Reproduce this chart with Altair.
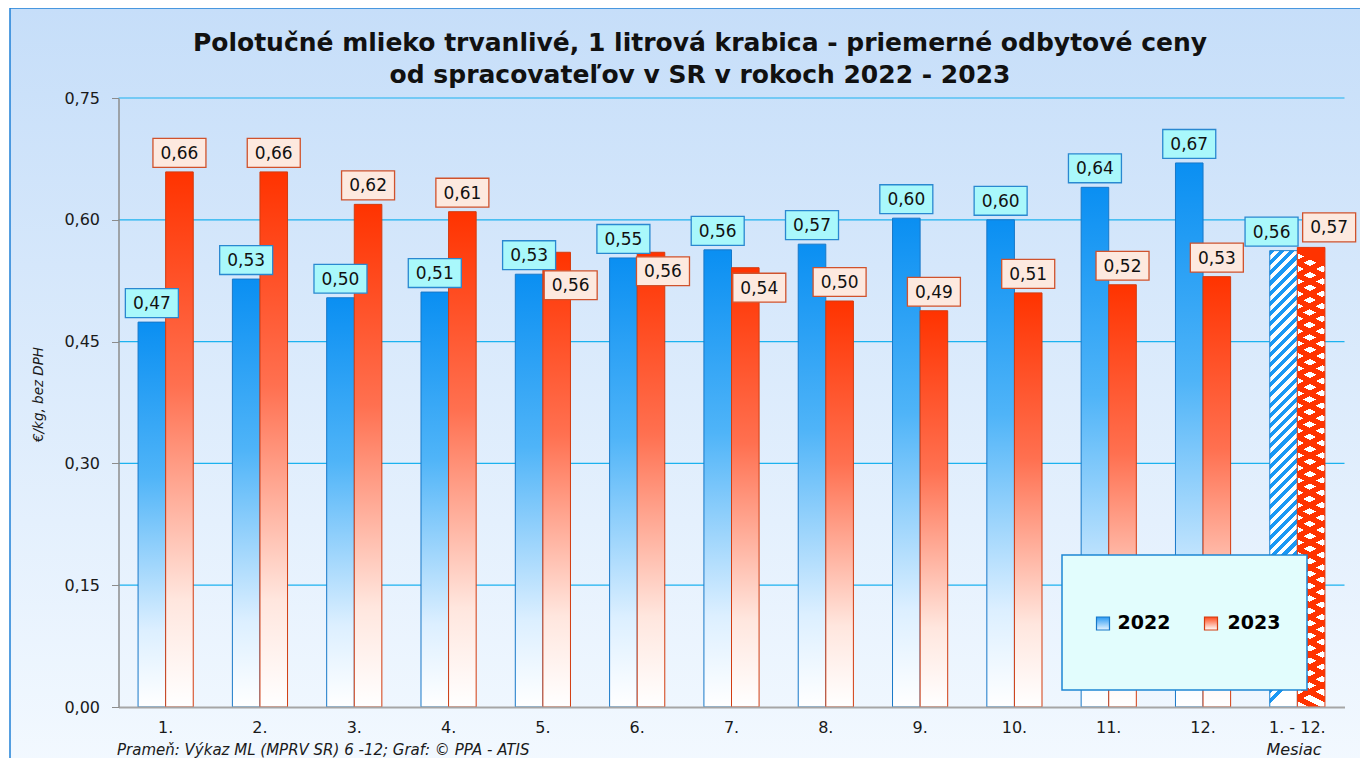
import altair as alt
import pandas as pd

# ---------------- data ----------------
months = ["1.", "2.", "3.", "4.", "5.", "6.", "7.", "8.", "9.", "10.", "11.", "12.", "1. - 12."]
years = ["2022", "2023"]
price_2022 = [0.474, 0.527, 0.504, 0.511, 0.533, 0.553, 0.563, 0.570, 0.602, 0.600, 0.640, 0.670, 0.562]
price_2023 = [0.659, 0.659, 0.619, 0.610, 0.560, 0.560, 0.541, 0.500, 0.488, 0.510, 0.520, 0.530, 0.566]
y_ticks = [0.0, 0.15, 0.30, 0.45, 0.60, 0.75]
title_lines = ["Polotučné mlieko trvanlivé, 1 litrová krabica - priemerné odbytové ceny",
               "od spracovateľov v SR v rokoch 2022 - 2023"]
y_title = "€/kg, bez DPH"
x_title = "Mesiac"
source_note = "Prameň: Výkaz ML (MPRV SR) 6 -12; Graf: © PPA - ATIS"
legend_labels = ["2022", "2023"]

# ---------------- style ----------------
# pixel offsets of the (manually moved) value labels relative to the bar top
lab_dx_2022 = [0, 0, 0, 0, 0, 0, 0, 0, 0, 0, 0, 0, -12]
lab_dy_2022 = [-19] * 13
lab_dx_2023 = [0, 0, 0, 0, 14, 12, 14, 0, 0, 0, 0, 0, 18]
lab_dy_2023 = [-19, -19, -19, -19, 33, 19, 20, -19, -19, -19, -19, -19, -20]

PW, PH = 1226, 609
YMAX = 0.75
P_INNER, P_OUTER = 0.415, 0.2075
STEP = PW / (len(months) - P_INNER + 2 * P_OUTER)
BAR_W = STEP * (1 - P_INNER) / 2
FONT = "DejaVu Sans"
RED = "#ff3300"

rows = []
for i, m in enumerate(months):
    for yr, vals, dxs, dys in (("2022", price_2022, lab_dx_2022, lab_dy_2022),
                               ("2023", price_2023, lab_dx_2023, lab_dy_2023)):
        rows.append({"month": m, "year": yr, "value": vals[i],
                     "grp": f"{yr}|{dxs[i]}|{dys[i]}"})
df = pd.DataFrame(rows)


def grad(stops, x1=0.0, y1=0.0, x2=0.0, y2=1.0):
    return alt.LinearGradient(
        gradient="linear",
        stops=[alt.GradientStop(color=c, offset=round(o, 5)) for o, c in stops],
        x1=x1, y1=y1, x2=x2, y2=y2)


def stripes(c_on, c_off, n, duty):
    st = []
    for k in range(n):
        a, b, e = k / n, (k + duty) / n, (k + 1) / n
        st += [(a, c_on), (b, c_on), (b, c_off), (e, c_off)]
    return st


blue_fill = grad([(0, "#0a8ff2"), (0.4, "#4fb4f8"), (0.8, "#dcefff"), (1, "#ffffff")])
red_fill = grad([(0, "#ff3300"), (0.4, "#ff7050"), (0.8, "#ffe6de"), (1, "#ffffff")])

h_blue_avg = price_2022[-1] / YMAX * PH
h_red_avg = price_2023[-1] / YMAX * PH
blue_hatch = grad(stripes("#1a98f4", "#ffffff", 45, 0.5), 0, 0, BAR_W / h_blue_avg, 1)
red_a = grad(stripes(RED, "rgba(255,255,255,0)", 37, 0.48), 0, 0, 0.5 * BAR_W / h_red_avg, 1)
red_b = grad(stripes(RED, "rgba(255,255,255,0)", 37, 0.48), 0, 0, -0.5 * BAR_W / h_red_avg, 1)

bg_fill = grad([(0, "#c6def9"), (1, "#f3f9ff")])

# ---------------- encodings ----------------
y_scale = alt.Scale(domain=[0, YMAX], nice=False, zero=True)
x_scale = alt.Scale(domain=months, paddingInner=P_INNER, paddingOuter=P_OUTER)
off_scale = alt.Scale(domain=years, paddingInner=0, paddingOuter=0)

x_axis = alt.Axis(title=x_title, labelAngle=0, labelFont=FONT, labelFontSize=16,
                  labelColor="#1a1a1a", labelPadding=12, ticks=False, grid=False,
                  domainColor="#a6a6a6", domainWidth=2, zindex=2,
                  titleFont=FONT, titleFontSize=16, titleFontStyle="italic",
                  titleFontWeight="normal", titleColor="#1a1a1a",
                  titleX=1175, titleY=42, titleAlign="center", titleBaseline="middle")
y_axis = alt.Axis(values=y_ticks, labelExpr="replace(format(datum.value, '.2f'), '.', ',')",
                  labelFont=FONT, labelFontSize=16, labelColor="#1a1a1a", labelPadding=12,
                  tickSize=7, tickColor="#8c8c8c", domainColor="#8c8c8c", domainWidth=1.5,
                  grid=False, zindex=2, title=y_title, titleFont=FONT, titleFontSize=13.5,
                  titleFontStyle="italic", titleFontWeight="normal", titleColor="#1a1a1a",
                  titleX=-80, titleY=296, titleAlign="center", titleBaseline="middle")


def enc(chart):
    return chart.encode(
        x=alt.X("month:N", sort=months, scale=x_scale, axis=x_axis),
        xOffset=alt.XOffset("year:N", scale=off_scale),
        y=alt.Y("value:Q", scale=y_scale, axis=y_axis),
    )


one = pd.DataFrame({"k": [0]})

background = alt.Chart(one).mark_rect(fill=bg_fill, stroke="#1f80d6", strokeWidth=1.5).encode(
    x=alt.value(-108.5), x2=alt.value(1260), y=alt.value(-90), y2=alt.value(680))

grid = alt.Chart(pd.DataFrame({"value": y_ticks[1:]})).mark_rule(
    color="#1cb2ef", strokeWidth=1.2).encode(
    y=alt.Y("value:Q", scale=y_scale, axis=y_axis))

base = alt.Chart(df)
is_avg = "datum.month == '1. - 12.'"
not_avg = "datum.month != '1. - 12.'"

bars_2022 = enc(base.transform_filter(f"datum.year == '2022' && {not_avg}").mark_bar(
    fill=blue_fill, stroke="#1878c8", strokeWidth=1))
bars_2023 = enc(base.transform_filter(f"datum.year == '2023' && {not_avg}").mark_bar(
    fill=red_fill, stroke="#d23c10", strokeWidth=1))

avg_2022_base = enc(base.transform_filter(f"datum.year == '2022' && {is_avg}").mark_bar(fill="#ffffff"))
avg_2022 = enc(base.transform_filter(f"datum.year == '2022' && {is_avg}").mark_bar(
    fill=blue_hatch, stroke="#1a80d0", strokeWidth=1))
avg_2023_base = enc(base.transform_filter(f"datum.year == '2023' && {is_avg}").mark_bar(fill="#ffffff"))
avg_2023_a = enc(base.transform_filter(f"datum.year == '2023' && {is_avg}").mark_bar(fill=red_a))
avg_2023_b = enc(base.transform_filter(f"datum.year == '2023' && {is_avg}").mark_bar(
    fill=red_b, stroke="#e03a10", strokeWidth=1))

BOX_W = 53.0
S = BOX_W / 2


def box_path(dx):
    a, b = -1 + dx / S, 1 + dx / S
    return f"M{a:.4f},-0.545L{b:.4f},-0.545L{b:.4f},0.545L{a:.4f},0.545Z"


label_layers = []
for g in sorted(df["grp"].unique()):
    yr, dx, dy = g.split("|")
    dx, dy = int(dx), int(dy)
    fill, stroke = ("#a9f8fb", "#2a88d0") if yr == "2022" else ("#fde9df", "#d0522c")
    sub = base.transform_filter(f"datum.grp == '{g}'").transform_calculate(
        lab="replace(format(datum.value, '.2f'), '.', ',')")
    label_layers.append(enc(sub.mark_point(shape=box_path(dx), size=BOX_W * BOX_W, filled=True,
                                           fill=fill, stroke=stroke, strokeWidth=1.3, opacity=1,
                                           yOffset=dy)))
    label_layers.append(enc(sub.mark_text(font=FONT, fontSize=17, color="#111111",
                                          align="center", baseline="middle",
                                          dx=dx, dy=dy + 1)).encode(text="lab:N"))

# title (as text, so it is placed against the plot area)
title_1 = alt.Chart(one).mark_text(text=title_lines[0], font=FONT, fontSize=25, fontWeight="bold",
                                   color="#111111", align="center", baseline="middle").encode(
    x=alt.value(581.5), y=alt.value(-55))
title_2 = alt.Chart(one).mark_text(text=title_lines[1], font=FONT, fontSize=25, fontWeight="bold",
                                   color="#111111", align="center", baseline="middle").encode(
    x=alt.value(581.5), y=alt.value(-23))

# legend (drawn by hand, as in the original)
leg_box = alt.Chart(one).mark_rect(fill="#e2fdfd", stroke="#1e86d4", strokeWidth=1.5).encode(
    x=alt.value(943.5), x2=alt.value(1188.5), y=alt.value(457), y2=alt.value(592))
leg_sw1 = alt.Chart(one).mark_rect(fill=grad([(0, "#2a9af4"), (1, "#e8f5ff")]),
                                   stroke="#1878c8", strokeWidth=1.2).encode(
    x=alt.value(978), x2=alt.value(991), y=alt.value(519), y2=alt.value(532))
leg_sw2 = alt.Chart(one).mark_rect(fill=grad([(0, "#ff4a1a"), (1, "#ffffff")]),
                                   stroke="#d23c10", strokeWidth=1.2).encode(
    x=alt.value(1086), x2=alt.value(1099), y=alt.value(519), y2=alt.value(532))
leg_t1 = alt.Chart(one).mark_text(text=legend_labels[0], font=FONT, fontSize=19, fontWeight="bold",
                                  color="#000000", align="left", baseline="middle").encode(
    x=alt.value(999), y=alt.value(525))
leg_t2 = alt.Chart(one).mark_text(text=legend_labels[1], font=FONT, fontSize=19, fontWeight="bold",
                                  color="#000000", align="left", baseline="middle").encode(
    x=alt.value(1109), y=alt.value(525))

source = alt.Chart(one).mark_text(text=source_note, font=FONT, fontSize=15, fontStyle="italic",
                                  color="#1a1a1a", align="left", baseline="middle").encode(
    x=alt.value(-1.5), y=alt.value(PH + 43))

chart = alt.layer(
    background, title_1, title_2, grid, bars_2022, bars_2023,
    avg_2022_base, avg_2022, avg_2023_base, avg_2023_a, avg_2023_b,
    *label_layers,
    leg_box, leg_sw1, leg_sw2, leg_t1, leg_t2, source,
).properties(
    width=PW, height=PH,
    padding={"left": 110.5, "top": 90, "right": 15, "bottom": 51},
    autosize=alt.AutoSizeParams(type="none"),
).configure_view(stroke=None).configure(background="#ffffff")

chart.save("out.html", embed_options={"renderer": "svg", "actions": False})
